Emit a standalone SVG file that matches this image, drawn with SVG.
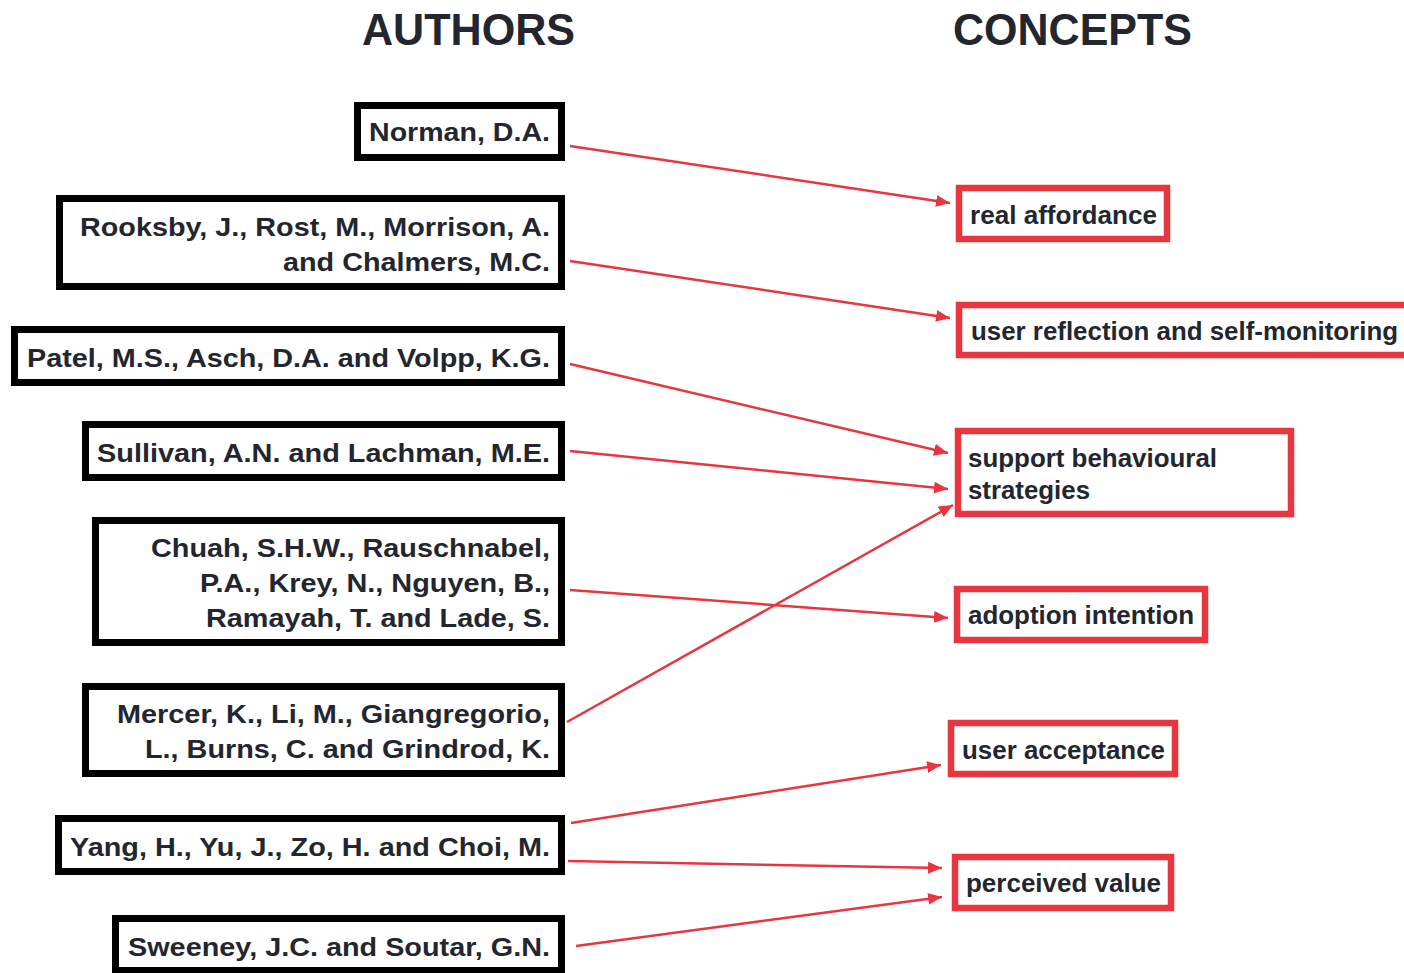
<svg xmlns="http://www.w3.org/2000/svg" width="1404" height="973" viewBox="0 0 1404 973">
  <defs>
    <marker id="arrow" markerUnits="userSpaceOnUse" markerWidth="15" markerHeight="13" refX="14" refY="6" orient="auto">
      <path d="M0,0 L14,6 L0,12 Z" fill="#e8353f"/>
    </marker>
    <style>
      .title { font-family: "Liberation Sans", Arial, sans-serif; font-weight: bold; font-size: 44px; fill: #23262e; }
      .author-box { fill: #ffffff; stroke: #000000; stroke-width: 7; }
      .concept-box { fill: #ffffff; stroke: #e8353f; stroke-width: 6.5; }
      .author { font-family: "Liberation Sans", Arial, sans-serif; font-weight: bold; font-size: 26px; fill: #23262e; text-anchor: end; }
      .concept { font-family: "Liberation Sans", Arial, sans-serif; font-weight: bold; font-size: 25px; fill: #23262e; }
      .link { fill: none; stroke: #e8353f; stroke-width: 2.5; marker-end: url(#arrow); }
    </style>
  </defs>

  <rect width="1404" height="973" fill="#ffffff"/>

  <!-- column headings -->
  <text class="title" x="362" y="45" textLength="213" lengthAdjust="spacingAndGlyphs">AUTHORS</text>
  <text class="title" x="953" y="45" textLength="239" lengthAdjust="spacingAndGlyphs">CONCEPTS</text>

  <!-- author nodes -->
  <g id="author-norman">
    <rect class="author-box" x="357.5" y="105.5" width="204" height="52"/>
    <text class="author" x="550" y="141" textLength="181" lengthAdjust="spacingAndGlyphs">Norman, D.A.</text>
  </g>
  <g id="author-rooksby">
    <rect class="author-box" x="59.5" y="198.5" width="502" height="88"/>
    <text class="author" x="550" y="236" textLength="470" lengthAdjust="spacingAndGlyphs">Rooksby, J., Rost, M., Morrison, A.</text>
    <text class="author" x="550" y="271" textLength="267" lengthAdjust="spacingAndGlyphs">and Chalmers, M.C.</text>
  </g>
  <g id="author-patel">
    <rect class="author-box" x="14.5" y="329.5" width="547" height="53"/>
    <text class="author" x="550" y="367" textLength="523" lengthAdjust="spacingAndGlyphs">Patel, M.S., Asch, D.A. and Volpp, K.G.</text>
  </g>
  <g id="author-sullivan">
    <rect class="author-box" x="85.5" y="424.5" width="476" height="53"/>
    <text class="author" x="550" y="462" textLength="453" lengthAdjust="spacingAndGlyphs">Sullivan, A.N. and Lachman, M.E.</text>
  </g>
  <g id="author-chuah">
    <rect class="author-box" x="95.5" y="520.5" width="466" height="122"/>
    <text class="author" x="550" y="557" textLength="399" lengthAdjust="spacingAndGlyphs">Chuah, S.H.W., Rauschnabel,</text>
    <text class="author" x="550" y="592" textLength="350" lengthAdjust="spacingAndGlyphs">P.A., Krey, N., Nguyen, B.,</text>
    <text class="author" x="550" y="627" textLength="344" lengthAdjust="spacingAndGlyphs">Ramayah, T. and Lade, S.</text>
  </g>
  <g id="author-mercer">
    <rect class="author-box" x="85.5" y="686.5" width="476" height="87"/>
    <text class="author" x="550" y="723" textLength="433" lengthAdjust="spacingAndGlyphs">Mercer, K., Li, M., Giangregorio,</text>
    <text class="author" x="550" y="758" textLength="405" lengthAdjust="spacingAndGlyphs">L., Burns, C. and Grindrod, K.</text>
  </g>
  <g id="author-yang">
    <rect class="author-box" x="58.5" y="818.5" width="503" height="53"/>
    <text class="author" x="550" y="856" textLength="480" lengthAdjust="spacingAndGlyphs">Yang, H., Yu, J., Zo, H. and Choi, M.</text>
  </g>
  <g id="author-sweeney">
    <rect class="author-box" x="115.5" y="918.5" width="446" height="52"/>
    <text class="author" x="550" y="956" textLength="422" lengthAdjust="spacingAndGlyphs">Sweeney, J.C. and Soutar, G.N.</text>
  </g>

  <!-- concept nodes -->
  <g id="concept-real-affordance">
    <rect class="concept-box" x="959" y="188" width="208" height="51"/>
    <text class="concept" x="970" y="224" textLength="187" lengthAdjust="spacingAndGlyphs">real affordance</text>
  </g>
  <g id="concept-user-reflection">
    <rect class="concept-box" x="959" y="305" width="460" height="50"/>
    <text class="concept" x="971" y="340" textLength="427" lengthAdjust="spacingAndGlyphs">user reflection and self-monitoring</text>
  </g>
  <g id="concept-support-strategies">
    <rect class="concept-box" x="958" y="431" width="333" height="83"/>
    <text class="concept" x="968" y="467" textLength="249" lengthAdjust="spacingAndGlyphs">support behavioural</text>
    <text class="concept" x="968" y="499" textLength="122" lengthAdjust="spacingAndGlyphs">strategies</text>
  </g>
  <g id="concept-adoption-intention">
    <rect class="concept-box" x="957" y="589" width="248" height="51"/>
    <text class="concept" x="968" y="624" textLength="226" lengthAdjust="spacingAndGlyphs">adoption intention</text>
  </g>
  <g id="concept-user-acceptance">
    <rect class="concept-box" x="951" y="723" width="224" height="51"/>
    <text class="concept" x="962" y="759" textLength="203" lengthAdjust="spacingAndGlyphs">user acceptance</text>
  </g>
  <g id="concept-perceived-value">
    <rect class="concept-box" x="955" y="857" width="216" height="51"/>
    <text class="concept" x="966" y="892" textLength="195" lengthAdjust="spacingAndGlyphs">perceived value</text>
  </g>

  <!-- connectors -->
  <g id="connectors">
    <line class="link" x1="570" y1="146" x2="950" y2="203"/>
    <line class="link" x1="570" y1="261" x2="950" y2="318"/>
    <line class="link" x1="570" y1="364" x2="948" y2="453"/>
    <line class="link" x1="570" y1="451" x2="948" y2="489"/>
    <line class="link" x1="570" y1="590" x2="948" y2="618"/>
    <line class="link" x1="567" y1="722" x2="953" y2="505"/>
    <line class="link" x1="571" y1="823" x2="941" y2="765"/>
    <line class="link" x1="568" y1="861" x2="942" y2="868"/>
    <line class="link" x1="576" y1="946" x2="942" y2="897"/>
  </g>
</svg>
